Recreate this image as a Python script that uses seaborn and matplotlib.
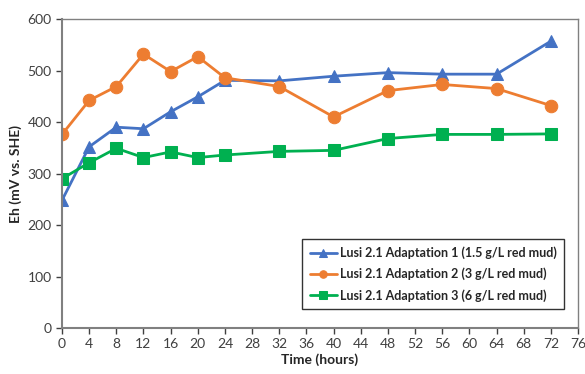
import matplotlib
matplotlib.use("Agg")
import matplotlib.pyplot as plt
import pandas as pd
import seaborn as sns

hours = [0, 4, 8, 12, 16, 20, 24, 32, 40, 48, 56, 64, 72]
adapt1 = [248, 352, 390, 387, 420, 449, 481, 480, 489, 496, 493, 493, 557]
adapt2 = [376, 442, 469, 532, 498, 527, 486, 469, 410, 461, 473, 465, 432]
adapt3 = [290, 321, 349, 331, 342, 331, 336, 343, 345, 368, 376, 376, 377]
labels = ["Lusi 2.1 Adaptation 1 (1.5 g/L red mud)",
          "Lusi 2.1 Adaptation 2 (3 g/L red mud)",
          "Lusi 2.1 Adaptation 3 (6 g/L red mud)"]
colors = ["#4472C4", "#ED7D31", "#00B050"]
markers = ["^", "o", "s"]

df = pd.DataFrame({"hours": hours * 3,
                   "Eh": adapt1 + adapt2 + adapt3,
                   "series": [labels[0]] * 13 + [labels[1]] * 13 + [labels[2]] * 13})

sns.set_style("white")
plt.rcParams["font.family"] = ["Lato", "DejaVu Sans"]

fig = plt.figure(figsize=(5.85, 3.74), dpi=100)
ax = fig.add_axes([0.106, 0.123, 0.882, 0.826])

for lab, col, mk in zip(labels, colors, markers):
    sub = df[df["series"] == lab]
    sns.lineplot(data=sub, x="hours", y="Eh", ax=ax, color=col, marker=mk,
                 markersize=9, markeredgecolor=col, linewidth=2, label=lab)

ax.set_xlim(0, 76)
ax.set_ylim(0, 600)
ax.set_xticks(range(0, 77, 4))
ax.set_yticks(range(0, 601, 100))
ax.tick_params(axis="both", labelsize=10, colors="#404040", direction="out",
               length=4, width=1, bottom=True, left=True)
for s in ["left", "bottom"]:
    ax.spines[s].set_color("#808080")
    ax.spines[s].set_linewidth(1.5)
for s in ["top", "right"]:
    ax.spines[s].set_color("#808080")
    ax.spines[s].set_linewidth(1)
ax.set_xlabel("Time (hours)", fontsize=10, fontweight="bold", labelpad=2)
ax.set_ylabel("Eh (mV vs. SHE)", fontsize=10, fontweight="bold", labelpad=4)

leg = ax.legend(loc="lower right", bbox_to_anchor=(0.985, 0.04), fontsize=9,
                frameon=True, fancybox=False, handlelength=2.2, handletextpad=0.2,
                labelspacing=0.7, borderpad=0.6, markerscale=0.6)
leg.get_frame().set_edgecolor("black")
leg.get_frame().set_linewidth(1)
for t in leg.get_texts():
    t.set_fontweight("bold")
    t.set_color("#262626")

fig.savefig("out.png", dpi=100)
